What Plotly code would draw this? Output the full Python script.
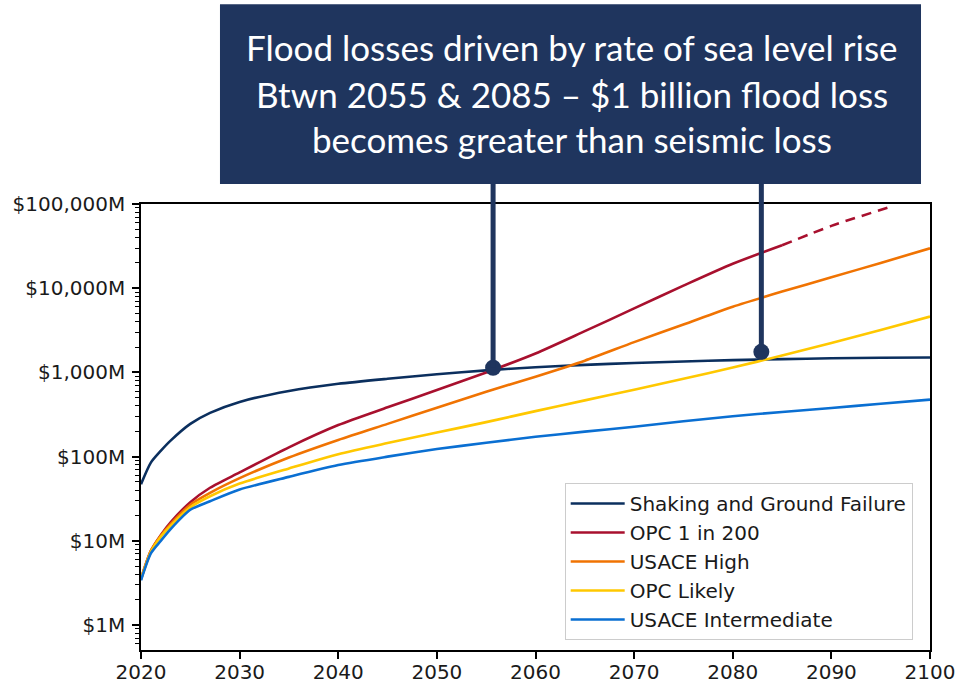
import math
import plotly.graph_objects as go

# Annual loss projections ($ millions)
years = [2020, 2021, 2022, 2023, 2025, 2027, 2030, 2035, 2040, 2045, 2050,
         2055, 2060, 2065, 2070, 2075, 2080, 2085, 2090, 2095, 2100]

shaking = [47, 85, 117, 155, 245, 331, 447, 603, 733, 841, 951,
           1059, 1153, 1230, 1294, 1349, 1400, 1439, 1472, 1493, 1507]

usace_high = [3.6, 7.6, 11.5, 15.8, 26.9, 37.2, 55.6, 97.7, 158, 245, 380,
              589, 891, 1380, 2290, 3715, 6030, 9120, 13490, 19950, 29800]

opc_likely = [3.5, 7.4, 11.2, 15.1, 25.1, 33.9, 47.9, 72.4, 107, 145, 193,
              257, 347, 466, 624, 841, 1143, 1585, 2240, 3200, 4610]

usace_int = [3.4, 7.1, 10.0, 13.8, 23.4, 29.5, 40.7, 57.5, 79.4, 100, 123,
             146, 172, 198, 226, 263, 302, 339, 378, 425, 475]

# OPC 1 in 200 is solid through 2085, dashed extension afterwards
opc_years = [2020, 2021, 2022, 2023, 2025, 2027, 2030, 2035, 2040, 2045, 2050,
             2055, 2060, 2065, 2070, 2075, 2080, 2085]
opc_1in200 = [3.5, 7.6, 11.7, 16.6, 28.8, 42.7, 65, 129, 237, 385, 617,
              1000, 1679, 3090, 5754, 10715, 19500, 32360]
opc_ext_years = [2085, 2090, 2096]
opc_ext = [32360, 55000, 92700]

# Points where flood loss overtakes seismic loss
cross_years = [2055.7, 2082.9]
cross_values = [1137, 1757]

tick_vals = [1, 10, 100, 1000, 10000, 100000]
tick_text = ["$1M", "$10M", "$100M", "$1,000M", "$10,000M", "$100,000M"]

callout_lines = [
    "Flood losses driven by rate of sea level rise",
    "Btwn 2055 & 2085 \u2013 $1 billion flood loss",
    "becomes greater than seismic loss",
]

NAVY = "#0b2f5e"
BOX = "#1f355e"
RED = "#a8102e"
ORANGE = "#f07302"
YELLOW = "#ffc800"
BLUE = "#0a6fd2"

Y_MIN, Y_MAX = -0.296, 5.0

fig = go.Figure()

series = [
    ("Shaking and Ground Failure", years, shaking, NAVY),
    ("OPC 1 in 200", opc_years, opc_1in200, RED),
    ("USACE High", years, usace_high, ORANGE),
    ("OPC Likely", years, opc_likely, YELLOW),
    ("USACE Intermediate", years, usace_int, BLUE),
]
for i, (name, xs, ys, color) in enumerate(series):
    fig.add_trace(go.Scatter(
        x=xs, y=ys, name=name, mode="lines",
        line=dict(color=color, width=2.6, shape="spline", smoothing=0.7),
        legendgroup=f"g{i}",
    ))

fig.add_trace(go.Scatter(
    x=opc_ext_years, y=opc_ext, mode="lines", showlegend=False,
    line=dict(color=RED, width=2.6, dash="10px,7px", shape="spline", smoothing=0.6),
))

fig.add_trace(go.Scatter(
    x=cross_years, y=cross_values, mode="markers", showlegend=False,
    marker=dict(color=BOX, size=16), cliponaxis=False,
))

# Callout box above the plot
fig.add_shape(type="rect", xref="paper", yref="paper",
              x0=0.1001, x1=0.9886, y0=1.0448, y1=1.448,
              fillcolor=BOX, line=dict(width=0), layer="above")

for xv, yv in zip(cross_years, cross_values):
    yp = (math.log10(yv) - Y_MIN) / (Y_MAX - Y_MIN)
    fig.add_shape(type="line", xref="x", yref="paper",
                  x0=xv, x1=xv, y0=yp, y1=1.046,
                  line=dict(color=BOX, width=5), layer="above")

for line_text, yp in zip(callout_lines, [1.352, 1.246, 1.1455]):
    fig.add_annotation(
        text=line_text, xref="paper", yref="paper", x=0.5463, y=yp,
        xanchor="center", yanchor="middle", showarrow=False,
        font=dict(family="Lato", size=35, color="white"),
    )

minor_vals = [m * 10 ** e for e in range(-1, 5) for m in range(2, 10)]

fig.update_layout(
    width=955, height=685,
    margin=dict(l=141, r=25, t=204, b=35),
    paper_bgcolor="white", plot_bgcolor="white",
    font=dict(family="DejaVu Sans", size=20, color="#1a1a1a"),
    showlegend=True,
    legend=dict(
        x=0.537, y=0.3744, xanchor="left", yanchor="top",
        bgcolor="white", bordercolor="#cccccc", borderwidth=1,
        font=dict(family="DejaVu Sans", size=20, color="#1a1a1a"),
        tracegroupgap=0, itemwidth=54,
    ),
    xaxis=dict(
        range=[2020, 2100], tickmode="array",
        tickvals=list(range(2020, 2101, 10)),
        showgrid=False, zeroline=False, automargin=False,
        ticklabeloverflow="allow", ticklabelstandoff=-4,
        showline=True, linecolor="black", linewidth=1.5, mirror=True,
        ticks="outside", ticklen=7, tickwidth=1.5, tickcolor="black",
    ),
    yaxis=dict(
        type="log", range=[Y_MIN, Y_MAX], tickmode="array",
        tickvals=tick_vals, ticktext=tick_text,
        showgrid=False, zeroline=False, automargin=False,
        ticklabelstandoff=3,
        showline=True, linecolor="black", linewidth=1.5, mirror=True,
        ticks="outside", ticklen=7, tickwidth=1.5, tickcolor="black",
        minor=dict(tickmode="array", tickvals=minor_vals, ticks="outside",
                   ticklen=4, tickwidth=1, tickcolor="black", showgrid=False),
    ),
)

fig.write_html("out.html")
